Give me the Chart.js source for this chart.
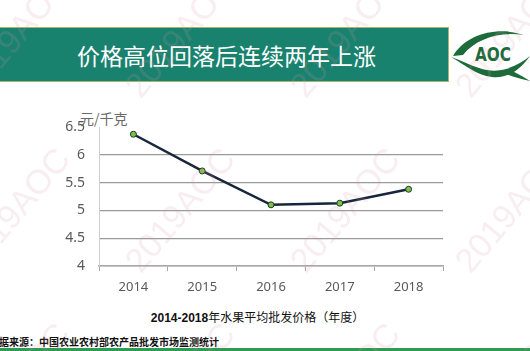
<!DOCTYPE html>
<html>
<head>
<meta charset="utf-8">
<script src="https://cdn.jsdelivr.net/npm/chart.js@4"></script>
<style>
    html, body { margin: 0; padding: 0; background: #fff; }
    body { width: 530px; height: 351px; position: relative; overflow: hidden; font-family: "Noto Sans CJK SC", "Noto Sans", sans-serif; }
    .title-bar {
        position: absolute; left: -1px; top: 27px; width: 450px; height: 55px;
        background: #19826e; border: 1px solid #a9b46c; box-sizing: border-box;
    }
    .title-text {
        position: absolute; left: 77px; top: 42px; font-size: 23px; line-height: 26px;
        color: #fff; white-space: nowrap;
    }
    .unit { position: absolute; left: 80px; top: 110px; font-size: 14px; line-height: 17px; color: #6a6a6a; }
    .chart-box { position: absolute; left: 0; top: 95px; width: 530px; height: 210px; }
    .caption {
        position: absolute; left: 0; width: 515px; top: 309px; text-align: center;
        font-size: 12px; line-height: 16px; color: #111;
    }
    .caption b { font-family: "Liberation Sans", Arial, sans-serif; }
    .source {
        position: absolute; left: -11px; top: 335px; font-size: 10px; line-height: 13px;
        color: #111; font-weight: bold; white-space: nowrap;
    }
    .bottom-line { position: absolute; left: 0; top: 348px; width: 530px; height: 3px; background: #2f9a52; }
    .logo { position: absolute; left: 450px; top: 26px; }
    .wm-layer { position: absolute; left: 0; top: 0; width: 530px; height: 351px; pointer-events: none; }
    .wm {
        position: absolute; font-family: "Liberation Sans", Arial, sans-serif; font-size: 34px;
        color: rgba(214, 150, 165, 0.17); white-space: nowrap; transform: translate(-50%, -50%) rotate(-50deg);
    }
</style>
</head>
<body>
<div class="title-bar"></div>
<div class="title-text">价格高位回落后连续两年上涨</div>
<svg class="logo" width="80" height="56" viewBox="0 0 80 56">
    <path d="M3 30 C16 8, 48 0, 74 9 C52 5, 26 12, 13 29 Z" fill="#1d6b3a"/>
    <path d="M1 31 C20 37, 34 49, 56 43 C66 40, 74 35, 80 30 C72 41, 60 53, 42 51 C26 49, 15 39, 1 31 Z" fill="#1d6b3a"/>
    <path d="M58 44 C66 46, 72 50, 80 55 C70 53, 63 51, 56 48 Z" fill="#1d6b3a"/>
    <text x="25" y="35" font-family="'DejaVu Sans', sans-serif" font-weight="bold" font-size="19"
          textLength="36" lengthAdjust="spacingAndGlyphs" fill="#1d6b3a">AOC</text>
</svg>
<div class="unit">元/千克</div>
<div class="chart-box"><canvas id="priceChart"></canvas></div>
<div class="caption"><b>2014-2018</b>年水果平均批发价格（年度）</div>
<div class="source">数据来源：中国农业农村部农产品批发市场监测统计</div>
<div class="bottom-line"></div>
<div class="wm-layer" id="wmLayer"></div>

<script>
// ================= DATA =================

const years = ['2014', '2015', '2016', '2017', '2018'];
const avgPrice = [6.37, 5.71, 5.10, 5.13, 5.38];
const yTicks = [4, 4.5, 5, 5.5, 6, 6.5];

// ================= WATERMARKS =================

function drawWatermarks() {
    const layer = document.getElementById('wmLayer');
    const spots = [[15, 35], [180, 35], [345, 35], [510, 35],
                   [15, 210], [180, 210], [345, 210], [510, 210],
                   [15, 385], [180, 385], [345, 385], [510, 385]];
    spots.forEach(([x, y]) => {
        const el = document.createElement('div');
        el.className = 'wm';
        el.textContent = '2019AOC';
        el.style.left = x + 'px';
        el.style.top = y + 'px';
        layer.appendChild(el);
    });
}

// ================= CHART =================

function initializeChart() {
    const ctx = document.getElementById('priceChart');
    const xFont = { family: '"Noto Sans", "Liberation Sans", sans-serif', size: 13 };
    const yFont = { family: '"Noto Sans", "Liberation Sans", sans-serif', size: 14 };

    new Chart(ctx, {
        type: 'line',
        data: {
            labels: years,
            datasets: [{
                data: avgPrice,
                borderColor: '#17263a',
                borderWidth: 2.5,
                tension: 0,
                pointRadius: 3,
                pointBackgroundColor: '#7cc04a',
                pointBorderColor: '#1f3a28',
                pointBorderWidth: 1
            }]
        },
        options: {
            responsive: true,
            maintainAspectRatio: false,
            animation: false,
            layout: { padding: { top: 32, right: 87, left: 0, bottom: 0 } },
            plugins: { legend: { display: false }, tooltip: { enabled: false } },
            scales: {
                x: {
                    offset: true,
                    grid: { drawOnChartArea: false, drawTicks: true, tickLength: 5, color: '#a8a8a8', offset: true },
                    border: { color: '#a8a8a8', width: 1.5 },
                    ticks: { color: '#595959', font: xFont, padding: 8 },
                    afterFit: scale => { scale.height = 39; }
                },
                y: {
                    min: yTicks[0],
                    max: yTicks[yTicks.length - 1],
                    afterBuildTicks: scale => { scale.ticks = yTicks.map(v => ({ value: v })); },
                    grid: {
                        drawTicks: false,
                        color: c => (c.tick && c.tick.value === 6.5) ? 'rgba(0,0,0,0)' : '#9a9a9a',
                        lineWidth: 1.2
                    },
                    border: { color: '#cfcfcf' },
                    ticks: { color: '#595959', font: yFont, padding: 14, callback: v => String(v) },
                    afterFit: scale => { scale.width = 99; }
                }
            }
        }
    });
}

document.addEventListener('DOMContentLoaded', () => {
    initializeChart();
    drawWatermarks();
});
</script>
</body>
</html>
